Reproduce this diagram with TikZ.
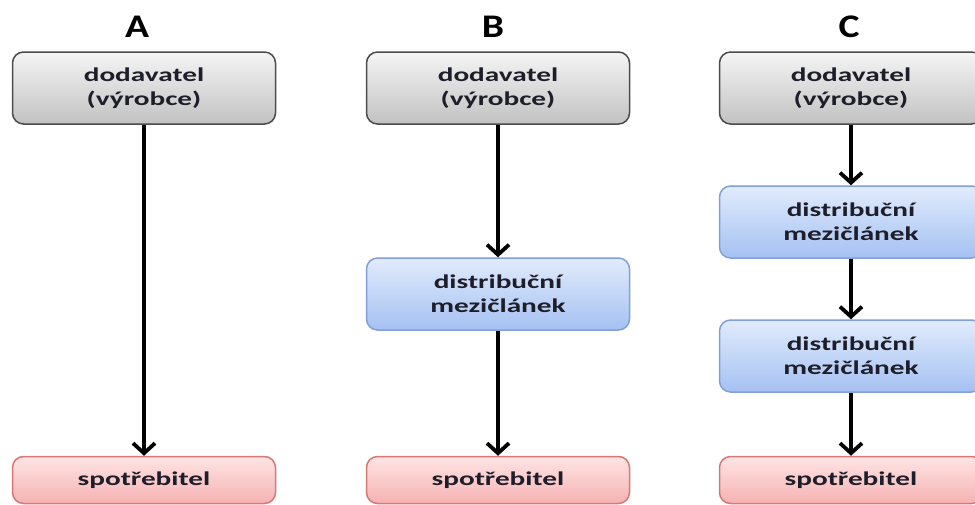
\documentclass[tikz,border=0pt]{standalone}
\usepackage{fontspec}
\setmainfont{Carlito}
\newfontfamily\widefont[FakeStretch=1.5]{Carlito}
\newfontfamily\labfont[FakeStretch=1.2]{Carlito}
\usetikzlibrary{arrows.meta}
\definecolor{txt}{HTML}{1E1E2A}
\tikzset{
  base/.style={rounded corners=11pt, line width=1.5pt, minimum width=263pt, minimum height=72pt,
    align=center, font=\widefont\bfseries\fontsize{19.5}{24}\selectfont, text=txt, inner sep=0pt},
  graybox/.style={base, draw=black!70, top color=black!4, bottom color=black!24},
  bluebox/.style={base, draw={rgb,255:red,130;green,160;blue,215}, top color={rgb,255:red,225;green,235;blue,252}, bottom color={rgb,255:red,165;green,193;blue,242}},
  pinkbox/.style={base, minimum height=47pt, draw={rgb,255:red,215;green,120;blue,120}, top color={rgb,255:red,254;green,228;blue,228}, bottom color={rgb,255:red,246;green,178;blue,178}},
  arr/.style={line width=3.8pt, -{Straight Barb[length=10pt,width=22pt,line width=3.8pt]}},
  lab/.style={font=\labfont\bfseries\fontsize{33}{36}\selectfont}
}
\begin{document}
\begin{tikzpicture}[x=1pt,y=-1pt]
\useasboundingbox (0,0) rectangle (975,504);
% column A
\node[lab] (la) at (137,27) {A};
\node[graybox] (a1) at (144,88) {dodavatel\\(výrobce)};
\node[pinkbox] (a2) at (144,480) {spotřebitel};
\draw[arr] (a1) -- (a2);
% column B
\node[lab] (lb) at (493,27) {B};
\node[graybox] (b1) at (498,88) {dodavatel\\(výrobce)};
\node[bluebox] (b2) at (498,294) {distribuční\\mezičlánek};
\node[pinkbox] (b3) at (498,480) {spotřebitel};
\draw[arr] (b1) -- (b2);
\draw[arr] (b2) -- (b3);
% column C
\node[lab] (lc) at (849,27) {C};
\node[graybox] (c1) at (851,88) {dodavatel\\(výrobce)};
\node[bluebox] (c2) at (851,222) {distribuční\\mezičlánek};
\node[bluebox] (c3) at (851,356) {distribuční\\mezičlánek};
\node[pinkbox] (c4) at (851,480) {spotřebitel};
\draw[arr] (c1) -- (c2);
\draw[arr] (c2) -- (c3);
\draw[arr] (c3) -- (c4);
\end{tikzpicture}
\end{document}
